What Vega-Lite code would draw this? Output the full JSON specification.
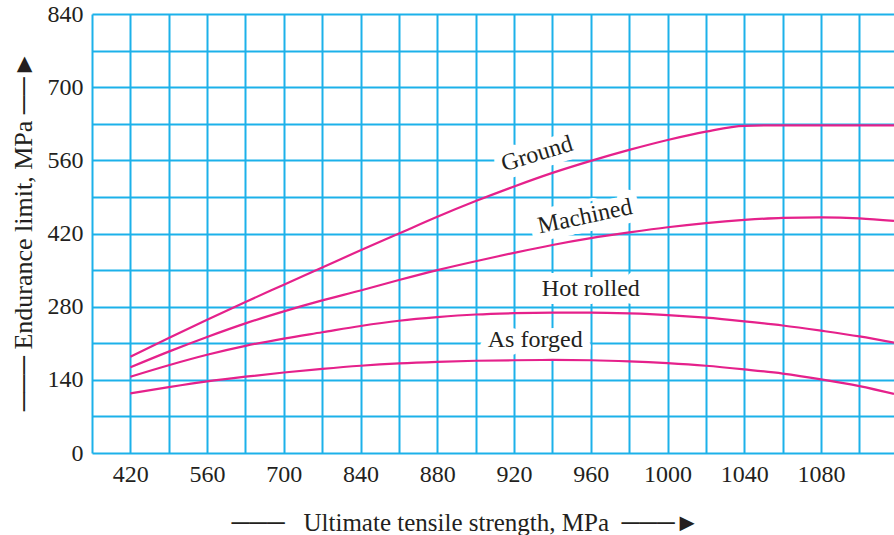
{
  "$schema": "https://vega.github.io/schema/vega-lite/v6.json",
  "width": 802,
  "height": 439,
  "autosize": {"type": "none"},
  "padding": {"left": 92, "top": 14, "right": 0, "bottom": 82},
  "background": "white",
  "config": {
    "view": {"stroke": null},
    "axis": {
      "labelFont": "Liberation Serif",
      "titleFont": "Liberation Serif",
      "labelColor": "#231f20",
      "titleColor": "#231f20",
      "titleFontWeight": "normal",
      "grid": true,
      "gridColor": "#1cb1ea",
      "gridWidth": 2,
      "gridOpacity": 1,
      "domain": false,
      "ticks": false,
      "tickSize": 0
    }
  },
  "datasets": {
    "curves": [
      {"finish": "Ground", "uts": 420, "se": 184}, {"finish": "Ground", "uts": 490, "se": 220}, {"finish": "Ground", "uts": 560, "se": 255}, {"finish": "Ground", "uts": 630, "se": 289}, {"finish": "Ground", "uts": 700, "se": 322}, {"finish": "Ground", "uts": 770, "se": 355}, {"finish": "Ground", "uts": 840, "se": 388}, {"finish": "Ground", "uts": 860, "se": 420}, {"finish": "Ground", "uts": 880, "se": 452}, {"finish": "Ground", "uts": 900, "se": 482}, {"finish": "Ground", "uts": 920, "se": 510}, {"finish": "Ground", "uts": 940, "se": 536}, {"finish": "Ground", "uts": 960, "se": 559}, {"finish": "Ground", "uts": 980, "se": 580}, {"finish": "Ground", "uts": 1000, "se": 599}, {"finish": "Ground", "uts": 1020, "se": 615}, {"finish": "Ground", "uts": 1040, "se": 626}, {"finish": "Ground", "uts": 1060, "se": 627}, {"finish": "Ground", "uts": 1080, "se": 627}, {"finish": "Ground", "uts": 1100, "se": 627}, {"finish": "Ground", "uts": 1118, "se": 627},
      {"finish": "Machined", "uts": 420, "se": 164}, {"finish": "Machined", "uts": 490, "se": 194}, {"finish": "Machined", "uts": 560, "se": 222}, {"finish": "Machined", "uts": 630, "se": 248}, {"finish": "Machined", "uts": 700, "se": 271}, {"finish": "Machined", "uts": 770, "se": 292}, {"finish": "Machined", "uts": 840, "se": 311}, {"finish": "Machined", "uts": 860, "se": 331}, {"finish": "Machined", "uts": 880, "se": 350}, {"finish": "Machined", "uts": 900, "se": 367}, {"finish": "Machined", "uts": 920, "se": 383}, {"finish": "Machined", "uts": 940, "se": 398}, {"finish": "Machined", "uts": 960, "se": 411}, {"finish": "Machined", "uts": 980, "se": 422}, {"finish": "Machined", "uts": 1000, "se": 432}, {"finish": "Machined", "uts": 1020, "se": 440}, {"finish": "Machined", "uts": 1040, "se": 446}, {"finish": "Machined", "uts": 1060, "se": 450}, {"finish": "Machined", "uts": 1080, "se": 451}, {"finish": "Machined", "uts": 1100, "se": 449}, {"finish": "Machined", "uts": 1118, "se": 444},
      {"finish": "Hot rolled", "uts": 420, "se": 146}, {"finish": "Hot rolled", "uts": 490, "se": 168}, {"finish": "Hot rolled", "uts": 560, "se": 188}, {"finish": "Hot rolled", "uts": 630, "se": 205}, {"finish": "Hot rolled", "uts": 700, "se": 219}, {"finish": "Hot rolled", "uts": 770, "se": 231}, {"finish": "Hot rolled", "uts": 840, "se": 243}, {"finish": "Hot rolled", "uts": 860, "se": 253}, {"finish": "Hot rolled", "uts": 880, "se": 260}, {"finish": "Hot rolled", "uts": 900, "se": 265}, {"finish": "Hot rolled", "uts": 920, "se": 267.5}, {"finish": "Hot rolled", "uts": 940, "se": 268.5}, {"finish": "Hot rolled", "uts": 960, "se": 268.5}, {"finish": "Hot rolled", "uts": 980, "se": 267}, {"finish": "Hot rolled", "uts": 1000, "se": 264}, {"finish": "Hot rolled", "uts": 1020, "se": 259}, {"finish": "Hot rolled", "uts": 1040, "se": 252}, {"finish": "Hot rolled", "uts": 1060, "se": 244}, {"finish": "Hot rolled", "uts": 1080, "se": 234}, {"finish": "Hot rolled", "uts": 1100, "se": 223}, {"finish": "Hot rolled", "uts": 1118, "se": 211},
      {"finish": "As forged", "uts": 420, "se": 114}, {"finish": "As forged", "uts": 490, "se": 126}, {"finish": "As forged", "uts": 560, "se": 137}, {"finish": "As forged", "uts": 630, "se": 146}, {"finish": "As forged", "uts": 700, "se": 154}, {"finish": "As forged", "uts": 770, "se": 161}, {"finish": "As forged", "uts": 840, "se": 167}, {"finish": "As forged", "uts": 860, "se": 171.5}, {"finish": "As forged", "uts": 880, "se": 174.5}, {"finish": "As forged", "uts": 900, "se": 176.5}, {"finish": "As forged", "uts": 920, "se": 177.5}, {"finish": "As forged", "uts": 940, "se": 178}, {"finish": "As forged", "uts": 960, "se": 177.5}, {"finish": "As forged", "uts": 980, "se": 175.5}, {"finish": "As forged", "uts": 1000, "se": 172}, {"finish": "As forged", "uts": 1020, "se": 167}, {"finish": "As forged", "uts": 1040, "se": 160}, {"finish": "As forged", "uts": 1060, "se": 152}, {"finish": "As forged", "uts": 1080, "se": 141}, {"finish": "As forged", "uts": 1100, "se": 128}, {"finish": "As forged", "uts": 1118, "se": 113}
    ],
    "labels": [
      {"finish": "Ground", "uts": 932, "se": 572},
      {"finish": "Machined", "uts": 957, "se": 452},
      {"finish": "Hot rolled", "uts": 960, "se": 314},
      {"finish": "As forged", "uts": 931, "se": 217}
    ]
  },
  "encoding": {
    "x": {
      "field": "uts",
      "type": "quantitative",
      "scale": {"type": "linear", "domain": [350, 840, 1118], "range": [0, 268.6, 802], "nice": false, "zero": false},
      "axis": {
        "values": [350, 420, 490, 560, 630, 700, 770, 840, 860, 880, 900, 920, 940, 960, 980, 1000, 1020, 1040, 1060, 1080, 1100],
        "format": "d",
        "labelExpr": "((datum.value <= 840 && (datum.value - 420) % 140 === 0) || (datum.value >= 840 && datum.value % 40 === 0)) ? datum.label : ''",
        "labelFontSize": 24,
        "labelPadding": 9,
        "labelOverlap": false,
        "labelFlush": false,
        "title": "─── \u00a0\u00a0Ultimate tensile strength, MPa \u00a0───►",
        "titleFontSize": 25,
        "titleX": 373,
        "titleY": 69,
        "titleAlign": "center",
        "titleBaseline": "middle"
      }
    },
    "y": {
      "field": "se",
      "type": "quantitative",
      "scale": {"domain": [0, 840], "nice": false, "zero": true},
      "axis": {
        "values": [0, 70, 140, 210, 280, 350, 420, 490, 560, 630, 700, 770, 840],
        "labelExpr": "datum.value % 140 === 0 ? datum.label : ''",
        "labelFontSize": 24,
        "labelPadding": 9,
        "labelOverlap": false,
        "labelFlush": false,
        "title": "─── Endurance limit, MPa ──►",
        "titleFontSize": 26,
        "titleAngle": -90,
        "titleX": -69,
        "titleY": 217,
        "titleAlign": "center",
        "titleBaseline": "middle"
      }
    }
  },
  "layer": [
    {
      "data": {"name": "labels"},
      "mark": {"type": "text", "font": "Liberation Serif", "fontSize": 24, "fill": "white", "stroke": "white", "strokeWidth": 16, "strokeJoin": "round", "align": "center", "baseline": "middle"},
      "encoding": {
        "text": {"field": "finish"},
        "angle": {"condition": [{"test": "datum.finish === 'Ground'", "value": -17}, {"test": "datum.finish === 'Machined'", "value": -12}], "value": 0}
      }
    },
    {
      "data": {"name": "curves"},
      "mark": {"type": "line", "color": "#e5218b", "strokeWidth": 2.2, "interpolate": "monotone"},
      "encoding": {"detail": {"field": "finish"}}
    },
    {
      "data": {"name": "labels"},
      "mark": {"type": "text", "font": "Liberation Serif", "fontSize": 24, "fill": "#231f20", "align": "center", "baseline": "middle"},
      "encoding": {
        "text": {"field": "finish"},
        "angle": {"condition": [{"test": "datum.finish === 'Ground'", "value": -17}, {"test": "datum.finish === 'Machined'", "value": -12}], "value": 0}
      }
    }
  ]
}
